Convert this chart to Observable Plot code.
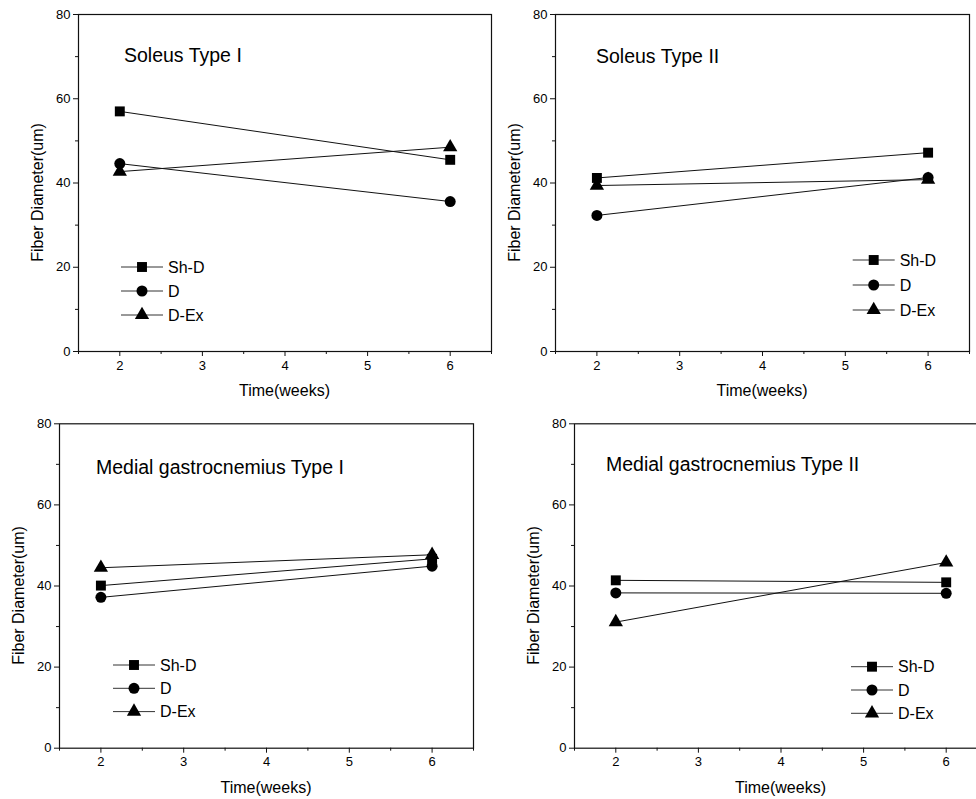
<!DOCTYPE html>
<html><head><meta charset="utf-8">
<script src="https://cdn.jsdelivr.net/npm/d3@7"></script>
<script src="https://cdn.jsdelivr.net/npm/@observablehq/plot@0.6"></script>
<style>
html,body{margin:0;padding:0;background:#fff;overflow:hidden}
#wrap{position:relative;width:976px;height:799px;overflow:hidden;background:#fff}
#wrap svg{position:absolute;overflow:visible;background:transparent}
</style></head><body><div id="wrap"></div>
<script>
const weeks = [2, 6];
const seriesNames = ["Sh-D", "D", "D-Ex"];
const seriesSymbols = ["square", "circle", "triangle"];
const panelTitles = ["Soleus Type I", "Soleus Type II", "Medial gastrocnemius Type I", "Medial gastrocnemius Type II"];
const soleusTypeI = [[57.0, 45.5], [44.6, 35.6], [42.7, 48.5]];
const soleusTypeII = [[41.2, 47.2], [32.3, 41.3], [39.4, 40.8]];
const medialTypeI = [[40.1, 46.7], [37.2, 44.9], [44.5, 47.7]];
const medialTypeII = [[41.4, 40.9], [38.3, 38.2], [31.1, 45.8]];
const yTicks = [0, 20, 40, 60, 80];
const yMinor = [10, 30, 50, 70];
const xTicks = [2, 3, 4, 5, 6];
const xMinor = [1.5, 2.5, 3.5, 4.5, 5.5, 6.5];
const xLabel = "Time(weeks)";
const yLabel = "Fiber Diameter(um)";

const panelValues = [soleusTypeI, soleusTypeII, medialTypeI, medialTypeII];
const FONT = "'Liberation Sans', Arial, Helvetica, sans-serif";
const symbolR = {square: 5.6, circle: 5.5, triangle: 5.3};

const layouts = [
  {left: 0, top: 0, width: 500, height: 400, ml: 78, mr: 9, mt: 14, mb: 49, title: [124, 62], legend: [121, 267, 24]},
  {left: 486, top: 0, width: 490, height: 400, ml: 69, mr: 7, mt: 14, mb: 49, title: [110, 63], legend: [366.7, 260, 25]},
  {left: 0, top: 400, width: 486, height: 399, ml: 59, mr: 13, mt: 23.3, mb: 51.3, title: [96, 74], legend: [113, 265, 23.3]},
  {left: 486, top: 400, width: 505, height: 399, ml: 88, mr: 4, mt: 23.3, mb: 51.3, title: [120, 70.7], legend: [365, 266.7, 23.3]}
];

const wrap = document.getElementById("wrap");

panelValues.forEach((vals, p) => {
  const L = layouts[p];
  const rows = [];
  seriesNames.forEach((s, i) => weeks.forEach((w, j) => rows.push({series: s, week: w, value: vals[i][j]})));

  const marks = [
    Plot.frame({stroke: "#111", strokeWidth: 1.2}),
    Plot.axisY(yTicks, {tickSize: 5, tickPadding: 3, fontSize: 13, label: null, stroke: "#111"}),
    Plot.axisY(yMinor, {tickSize: 3, tickFormat: () => "", label: null, stroke: "#111"}),
    Plot.axisX(xTicks, {tickSize: 5, tickPadding: 4, fontSize: 13, label: null, stroke: "#111"}),
    Plot.axisX(xMinor, {tickSize: 3, tickFormat: () => "", label: null, stroke: "#111"}),
    Plot.line(rows, {x: "week", y: "value", z: "series", stroke: "#111", strokeWidth: 1})
  ];
  seriesNames.forEach((s, i) => {
    marks.push(Plot.dot(rows.filter(d => d.series === s), {
      x: "week", y: "value", symbol: seriesSymbols[i], r: symbolR[seriesSymbols[i]], fill: "#000", stroke: "none"
    }));
  });

  const svg = Plot.plot({
    width: L.width, height: L.height,
    marginLeft: L.ml, marginRight: L.mr, marginTop: L.mt, marginBottom: L.mb,
    x: {domain: [1.5, 6.5]},
    y: {domain: [0, 80]},
    style: {fontFamily: FONT, fontSize: "13px", color: "#000", background: "transparent", overflow: "visible"},
    marks
  });
  svg.style.left = L.left + "px";
  svg.style.top = L.top + "px";
  wrap.appendChild(svg);

  const sel = d3.select(svg);
  const fx0 = L.ml, fx1 = L.width - L.mr, fy0 = L.mt, fy1 = L.height - L.mb;

  // title
  sel.append("text").attr("x", L.title[0]).attr("y", L.title[1])
    .attr("text-anchor", "start")
    .attr("font-family", FONT).attr("font-size", 19.5).attr("fill", "#000")
    .text(panelTitles[p]);

  // axis labels
  sel.append("text").attr("x", (fx0 + fx1) / 2).attr("y", fy1 + 45)
    .attr("text-anchor", "middle").attr("font-family", FONT).attr("font-size", 16).attr("fill", "#000")
    .text(xLabel);
  sel.append("text")
    .attr("transform", `translate(${fx0 - 41},${(fy0 + fy1) / 2 + 10}) rotate(-90)`)
    .attr("text-anchor", "middle").attr("dy", "0.35em")
    .attr("font-family", FONT).attr("font-size", 16).attr("fill", "#000")
    .text(yLabel);

  // legend
  const [lx, ly, step] = L.legend;
  const symMap = {square: d3.symbolSquare, circle: d3.symbolCircle, triangle: d3.symbolTriangle};
  const lg = sel.append("g");
  seriesNames.forEach((s, i) => {
    const y = ly + i * step;
    lg.append("line").attr("x1", lx).attr("x2", lx + 42).attr("y1", y).attr("y2", y)
      .attr("stroke", "#333").attr("stroke-width", 1);
    const r = symbolR[seriesSymbols[i]];
    lg.append("path").attr("d", d3.symbol(symMap[seriesSymbols[i]], Math.PI * r * r)())
      .attr("transform", `translate(${lx + 21},${y})`).attr("fill", "#000");
    lg.append("text").attr("x", lx + 47).attr("y", y).attr("dy", "0.35em")
      .attr("text-anchor", "start")
      .attr("font-family", FONT).attr("font-size", 16).attr("fill", "#000").text(s);
  });
});
</script></body></html>
